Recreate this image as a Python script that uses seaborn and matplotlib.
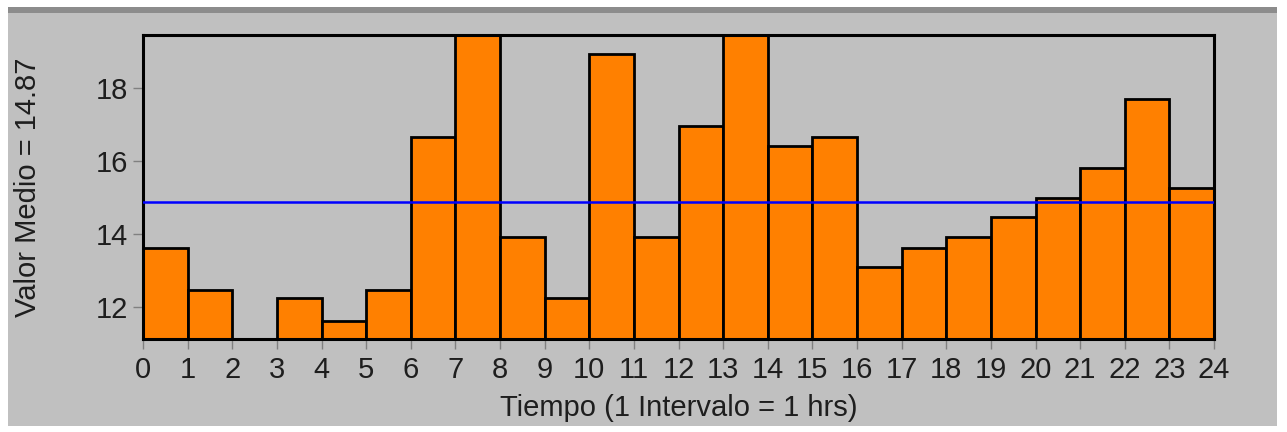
import numpy as np
import pandas as pd
import seaborn as sns
from matplotlib import pyplot as plt
from matplotlib.patches import Rectangle

# valores medios por hora
horas = list(range(24))
valores = [13.62, 12.47, 10.6, 12.25, 11.62, 12.47, 16.65, 19.7,
           13.91, 12.25, 18.92, 13.91, 16.96, 19.7, 16.42, 16.65,
           13.08, 13.61, 13.91, 14.45, 14.98, 15.80, 17.71, 15.27]
valor_medio = 14.87
etiquetas_x = [str(h) for h in range(25)]
ticks_y = [12, 14, 16, 18]

sns.set_theme(style="white")
plt.rcParams["font.family"] = ["Liberation Sans", "DejaVu Sans"]

df = pd.DataFrame({"hora": horas, "valor": valores})

fig = plt.figure(figsize=(12.87, 4.32), dpi=100, facecolor="white")

# panel gris de fondo con la franja oscura superior
fig.patches.append(Rectangle((8 / 1287, 1 - 426 / 432), 1269 / 1287, 419 / 432,
                             transform=fig.transFigure, facecolor="#c0c0c0",
                             edgecolor="none", zorder=-10))
fig.patches.append(Rectangle((8 / 1287, 1 - 13 / 432), 1269 / 1287, 6 / 432,
                             transform=fig.transFigure, facecolor="#8c8c8c",
                             edgecolor="none", zorder=-9))

ax = fig.add_axes([143 / 1287, 1 - 339 / 432, 1071 / 1287, 304 / 432])
ax.set_facecolor("#c0c0c0")

sns.barplot(data=df, x="hora", y="valor", color="#ff8000", saturation=1,
            width=1, edgecolor="black", linewidth=2, ax=ax)

ax.axhline(valor_medio, color="#0000ff", linewidth=1.8, zorder=5)

ax.set_xlim(-0.5, 23.5)
ax.set_ylim(11.12, 19.45)
ax.set_xticks(np.arange(25) - 0.5)
ax.set_xticklabels(etiquetas_x)
ax.set_yticks(ticks_y)

for s in ax.spines.values():
    s.set_visible(True)
    s.set_color("black")
    s.set_linewidth(2.2)

ax.tick_params(axis="both", which="major", direction="out", length=7.5,
               width=1, color="#808080", labelsize=21, labelcolor="#1e1e1e",
               bottom=True, left=True)
ax.tick_params(axis="x", pad=5)
ax.tick_params(axis="y", pad=3)

ax.set_xlabel("Tiempo (1 Intervalo = 1 hrs)", fontsize=21, color="#1e1e1e")
ax.set_ylabel("Valor Medio = 14.87", fontsize=21, color="#1e1e1e")
ax.xaxis.set_label_coords(0.5, -0.18)
ax.yaxis.set_label_coords(-0.094, 0.5)

fig.savefig("out.png", dpi=100, facecolor=fig.get_facecolor())
